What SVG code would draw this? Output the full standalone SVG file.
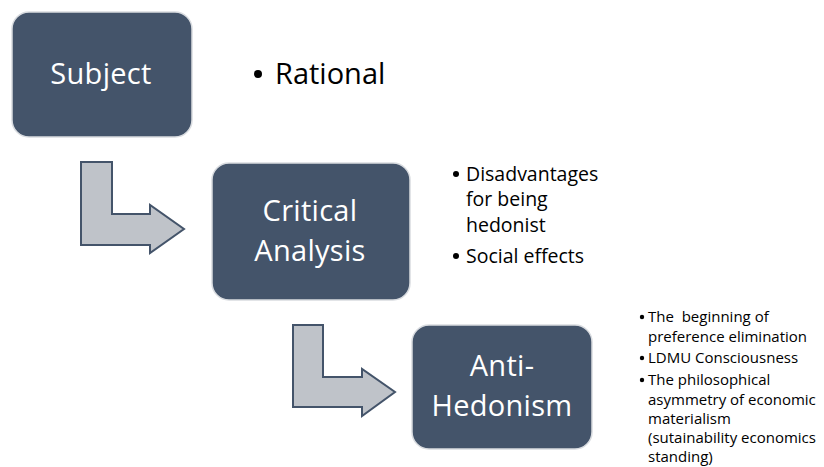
<svg xmlns="http://www.w3.org/2000/svg" width="824" height="467" viewBox="0 0 824 467">
<style>
.box{fill:#44546A;stroke:#D9DCE0;stroke-width:1.5}
.bt{fill:#FFFFFF;font-family:"Open Sans","Noto Sans",sans-serif;font-size:29px;text-anchor:middle;letter-spacing:0.3px}
.arr{fill:#BFC3C9;stroke:#44546A;stroke-width:2;stroke-linejoin:miter}
.t{fill:#000;font-family:"Open Sans","Noto Sans",sans-serif}
.m{font-size:19.5px}
.s{font-size:15px}
</style>
<rect width="824" height="467" fill="#FFFFFF"/>
<g id="connectors">
<polygon class="arr" points="81,162 112,162 112,214 150,214 150,205 184,229 150,253 150,245 81,245"/>
<polygon class="arr" points="293,325 323,325 323,377 362,377 362,369 395,392 362,416 362,407 293,407"/>
</g>
<g id="subject">
<rect class="box" x="12" y="12" width="180" height="125" rx="17"/>
<text class="bt" x="101" y="84">Subject</text>
</g>
<g id="rational">
<circle cx="258" cy="74" r="4" fill="#000"/>
<text class="t" x="275" y="84" font-size="29">Rational</text>
</g>
<g id="critical">
<rect class="box" x="212" y="163" width="198" height="137" rx="17"/>
<text class="bt" x="310" y="221">Critical</text>
<text class="bt" x="310" y="261">Analysis</text>
</g>
<g id="critical-notes">
<circle cx="456" cy="174" r="3" fill="#000"/>
<text class="t m" x="466" y="181">Disadvantages</text>
<text class="t m" x="466" y="206">for being</text>
<text class="t m" x="466" y="232">hedonist</text>
<circle cx="456" cy="256" r="3" fill="#000"/>
<text class="t m" x="466" y="263">Social effects</text>
</g>
<g id="anti">
<rect class="box" x="412" y="325" width="180" height="124" rx="17"/>
<text class="bt" x="502" y="376">Anti-</text>
<text class="bt" x="502" y="416">Hedonism</text>
</g>
<g id="anti-notes">
<circle cx="642" cy="317" r="2.2" fill="#000"/>
<text class="t s" x="648" y="322" style="white-space:pre">The  beginning of</text>
<text class="t s" x="648" y="342">preference elimination</text>
<circle cx="642" cy="358" r="2.2" fill="#000"/>
<text class="t s" x="648" y="363">LDMU Consciousness</text>
<circle cx="642" cy="380" r="2.2" fill="#000"/>
<text class="t s" x="648" y="385">The philosophical</text>
<text class="t s" x="648" y="405">asymmetry of economic</text>
<text class="t s" x="648" y="424">materialism</text>
<text class="t s" x="648" y="443">(sutainability economics</text>
<text class="t s" x="648" y="462">standing)</text>
</g>
</svg>
